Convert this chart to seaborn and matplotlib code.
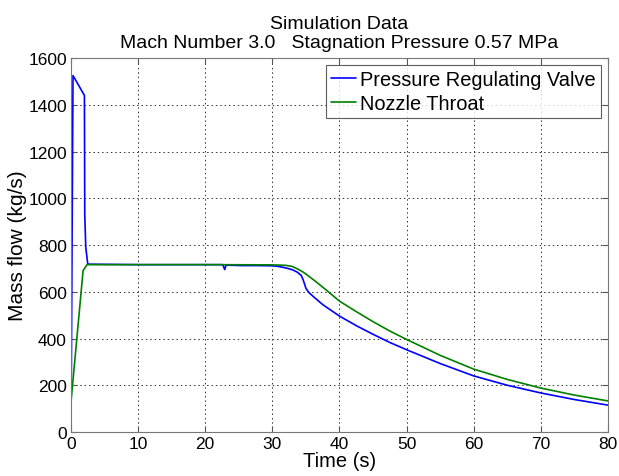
import matplotlib
matplotlib.use("Agg")
import matplotlib.pyplot as plt
import seaborn as sns
import pandas as pd

# Pressure Regulating Valve
prv_t = [0.0, 0.3, 2.0, 2.05, 2.2, 2.5, 10.0, 20.0, 22.6, 22.9, 23.1, 25.5, 28.0, 30.0,
         31.0, 32.0, 33.0, 33.7, 34.3, 34.6, 35.0, 35.4, 36.0, 37.5, 40.0, 42.5, 45.0,
         47.5, 50.0, 55.0, 60.0, 65.0, 70.0, 75.0, 80.0]
prv_v = [0, 1525, 1440, 930, 790, 718, 716, 716, 716, 695, 714, 712, 712, 711,
         708, 702, 694, 684, 670, 650, 615, 598, 582, 545, 496, 455, 418,
         383, 352, 293, 240, 200, 167, 139, 115]

# Nozzle Throat
nt_t = [0.0, 1.8, 2.4, 10.0, 20.0, 30.0, 32.0, 33.0, 33.8, 34.6, 35.5, 36.5, 38.0,
        40.0, 42.5, 45.0, 47.5, 50.0, 55.0, 60.0, 65.0, 70.0, 75.0, 80.0]
nt_v = [130, 690, 716, 716, 716, 715, 713, 708, 697, 684, 665, 643, 608,
        560, 515, 472, 432, 396, 328, 269, 225, 188, 158, 133]

labels = ["Pressure Regulating Valve", "Nozzle Throat"]
x_ticks = [0, 10, 20, 30, 40, 50, 60, 70, 80]
y_ticks = [0, 200, 400, 600, 800, 1000, 1200, 1400, 1600]

sns.set_style("ticks")
plt.rcParams['font.family'] = ['Liberation Sans', 'DejaVu Sans']
plt.rcParams['text.color'] = 'black'
plt.rcParams['axes.labelcolor'] = 'black'
plt.rcParams['xtick.labelcolor'] = 'black'
plt.rcParams['ytick.labelcolor'] = 'black'

df = pd.concat([
    pd.DataFrame({"t": prv_t, "v": prv_v, "series": labels[0]}),
    pd.DataFrame({"t": nt_t, "v": nt_v, "series": labels[1]}),
], ignore_index=True)

fig = plt.figure(figsize=(6.19, 4.77), dpi=100)
ax = fig.add_axes([0.1147, 0.0922, 0.9822 - 0.1147, 0.8763 - 0.0922])

sns.lineplot(data=df, x="t", y="v", hue="series", sort=False, estimator=None,
             palette={labels[0]: "#0000ff", labels[1]: "#008000"},
             linewidth=1.2, ax=ax)

ax.set_xlim(0, 80)
ax.set_ylim(0, 1600)
ax.set_xticks(x_ticks)
ax.set_yticks(y_ticks)
ax.tick_params(direction="in", top=True, right=True, labelsize=12.5, length=4,
               color="#555555", labelcolor="black", pad=3)
ax.grid(True, linestyle=(0, (1.5, 3)), color="#333333", linewidth=0.7)
for s in ax.spines.values():
    s.set_color("#777777")
    s.set_linewidth(0.8)

ax.set_xlabel("Time (s)", fontsize=14.5, labelpad=0, color="black")
ax.set_ylabel("Mass flow (kg/s)", fontsize=15, labelpad=1, color="black")
ax.set_title("Simulation Data\nMach Number 3.0   Stagnation Pressure 0.57 MPa", fontsize=14, pad=8,
             linespacing=1.15, color="black")

leg = ax.legend(loc="upper right", fontsize=14.4, frameon=True, fancybox=False,
                handlelength=1.25, handletextpad=0.2, borderpad=0.25, labelspacing=0.25,
                borderaxespad=0.35)
leg.get_frame().set_edgecolor("#333333")
leg.get_frame().set_linewidth(0.8)
leg.set_title(None)
for txt in leg.get_texts():
    txt.set_color("black")

fig.savefig("out.png", dpi=100)
